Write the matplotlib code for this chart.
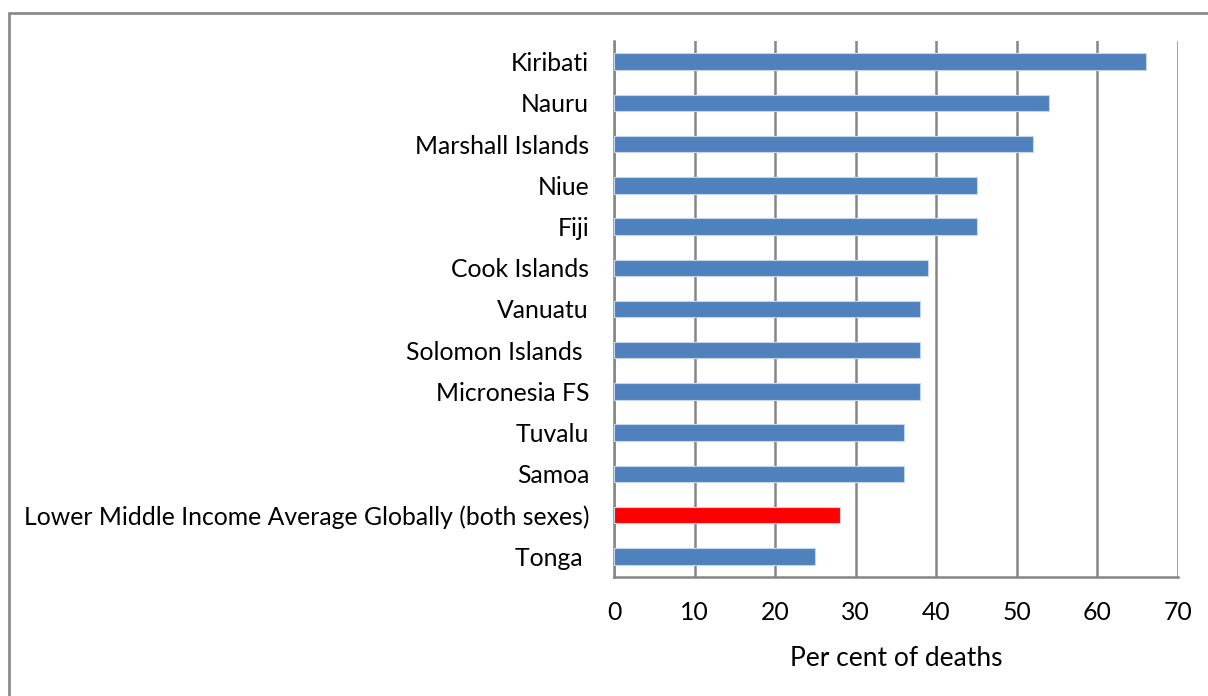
import matplotlib
matplotlib.use("Agg")
import matplotlib.pyplot as plt
from matplotlib.patches import Rectangle

countries = ["Kiribati", "Nauru", "Marshall Islands", "Niue", "Fiji", "Cook Islands",
             "Vanuatu", "Solomon Islands ", "Micronesia FS", "Tuvalu", "Samoa",
             "Lower Middle Income Average Globally (both sexes)", "Tonga "]
values = [66, 54, 52, 45, 45, 39, 38, 38, 38, 36, 36, 28, 25]
highlight = "Lower Middle Income Average Globally (both sexes)"
xticks = [0, 10, 20, 30, 40, 50, 60, 70]

plt.rcParams['font.family'] = ['Lato', 'DejaVu Sans']

W, H = 1208, 696
fig = plt.figure(figsize=(W/100, H/100), dpi=100)
ax = fig.add_axes([614/W, 1 - 577/H, (1178-614)/W, (577-41)/H])

colors = ["#FF0000" if c == highlight else "#4F81BD" for c in countries]
ypos = list(range(len(countries)))[::-1]
ax.barh(ypos, values, height=0.4, color=colors, edgecolor="#C6D5EA", linewidth=0.8, zorder=3)

ax.set_xlim(0, 70)
ax.set_ylim(-0.5, len(countries) - 0.5)
ax.set_xticks(xticks)
ax.set_xticklabels([str(t) for t in xticks], fontsize=17.8)
ax.set_yticks(ypos)
ax.set_yticklabels(countries, fontsize=17.8)
ax.tick_params(axis='x', length=0, pad=17)
ax.tick_params(axis='y', length=0, pad=18)
ax.grid(axis='x', color="#868686", linewidth=1.8, zorder=0)
for s in ["top", "right"]:
    ax.spines[s].set_visible(False)
for s in ["left", "bottom"]:
    ax.spines[s].set_color("#868686")
    ax.spines[s].set_linewidth(1.8)
ax.set_xlabel("Per cent of deaths", fontsize=19, labelpad=16)

fig.patches.append(Rectangle((8.5/W, -0.1), 1.2, 1 - 13.5/H + 0.1, transform=fig.transFigure,
                             fill=False, edgecolor="#8C8C8C", linewidth=2, zorder=0))

fig.savefig("out.png", dpi=100)
